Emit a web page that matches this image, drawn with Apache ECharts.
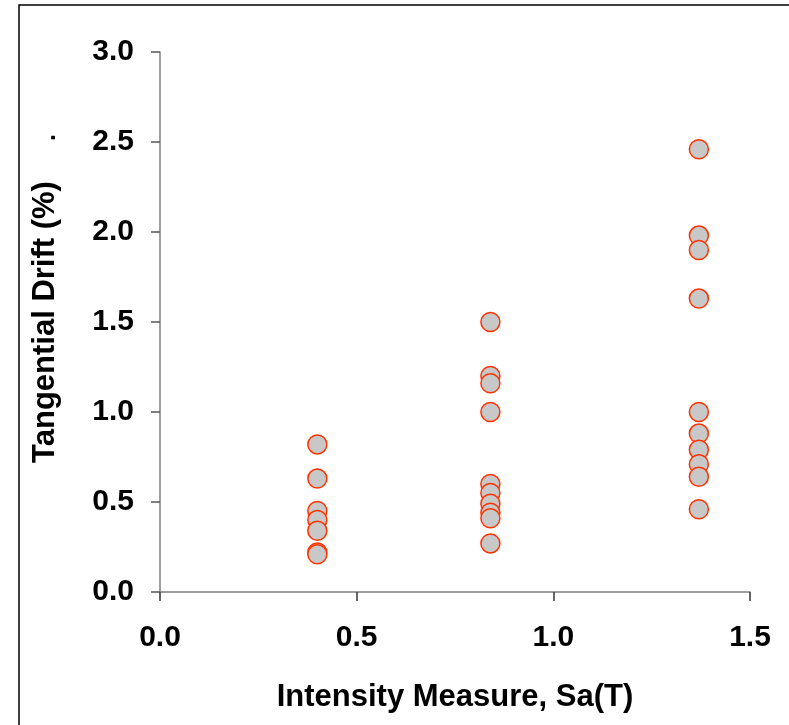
<!DOCTYPE html>
<html>
<head>
<meta charset="utf-8">
<script src="https://cdn.jsdelivr.net/npm/echarts@6/dist/echarts.min.js"></script>
<style>
  html, body { margin: 0; padding: 0; background: #fff; }
  #chart { width: 789px; height: 725px; }
</style>
</head>
<body>
<div id="chart"></div>
<script>
// Intensity measure levels (Sa(T)) at which the records were run
const imLevels = [0.40, 0.84, 1.37];

// Tangential drift (%) recorded at each intensity level
const driftLow  = [0.82, 0.63, 0.45, 0.40, 0.34, 0.22, 0.21];
const driftMid  = [1.50, 1.20, 1.16, 1.00, 0.60, 0.55, 0.49, 0.44, 0.41, 0.27];
const driftHigh = [2.46, 1.98, 1.90, 1.63, 1.00, 0.88, 0.79, 0.71, 0.64, 0.46];

// Axis ticks
const xTicks = [0.0, 0.5, 1.0, 1.5];
const yTicks = [0.0, 0.5, 1.0, 1.5, 2.0, 2.5, 3.0];

const groups = [driftLow, driftMid, driftHigh];
const points = [];
groups.forEach((vals, i) => vals.forEach(v => points.push([imLevels[i], v])));

const FONT = '"Liberation Sans", Arial, sans-serif';
const TICK_FS = 30;
const TITLE_FS = 31;

const chart = echarts.init(document.getElementById('chart'), null, { renderer: 'canvas' });
chart.setOption({
  animation: false,
  backgroundColor: '#ffffff',
  grid: { left: 160, top: 52, right: 39, bottom: 133, containLabel: false },
  xAxis: {
    type: 'value',
    min: xTicks[0],
    max: xTicks[xTicks.length - 1],
    interval: 0.5,
    name: 'Intensity Measure, Sa(T)',
    nameLocation: 'middle',
    nameGap: 90,
    nameTextStyle: { fontFamily: FONT, fontWeight: 'bold', fontSize: TITLE_FS, color: '#000' },
    axisLine: { onZero: false, lineStyle: { color: '#7f7f7f', width: 1.5 } },
    axisTick: { inside: false, length: 9, lineStyle: { color: '#333', width: 1.5 } },
    axisLabel: {
      margin: 31,
      fontFamily: FONT, fontWeight: 'bold', fontSize: TICK_FS, color: '#000',
      formatter: v => v.toFixed(1)
    },
    splitLine: { show: false }
  },
  yAxis: {
    type: 'value',
    min: yTicks[0],
    max: yTicks[yTicks.length - 1],
    interval: 0.5,
    name: 'Tangential Drift (%)',
    nameLocation: 'middle',
    nameGap: 99,
    nameTextStyle: { fontFamily: FONT, fontWeight: 'bold', fontSize: TITLE_FS, color: '#000' },
    axisLine: { onZero: false, lineStyle: { color: '#7f7f7f', width: 1.5 } },
    axisTick: { inside: false, length: 9, lineStyle: { color: '#555', width: 1.5 } },
    axisLabel: {
      margin: 26,
      fontFamily: FONT, fontWeight: 'bold', fontSize: TICK_FS, color: '#000',
      formatter: v => v.toFixed(1)
    },
    splitLine: { show: false }
  },
  graphic: [
    {
      type: 'rect',
      shape: { x: 19, y: 5, width: 900, height: 900 },
      style: { fill: 'none', stroke: '#000', lineWidth: 1.5 },
      silent: true
    },
    {
      type: 'text',
      x: 36, y: 141,
      rotation: Math.PI / 2,
      style: { text: '.', font: 'bold 25px ' + FONT, fill: '#000' },
      silent: true
    }
  ],
  series: [{
    type: 'scatter',
    data: points,
    symbol: 'circle',
    symbolSize: 19,
    itemStyle: { color: '#c8c8c8', borderColor: '#ff3300', borderWidth: 1.5, opacity: 1 }
  }]
});
</script>
</body>
</html>
